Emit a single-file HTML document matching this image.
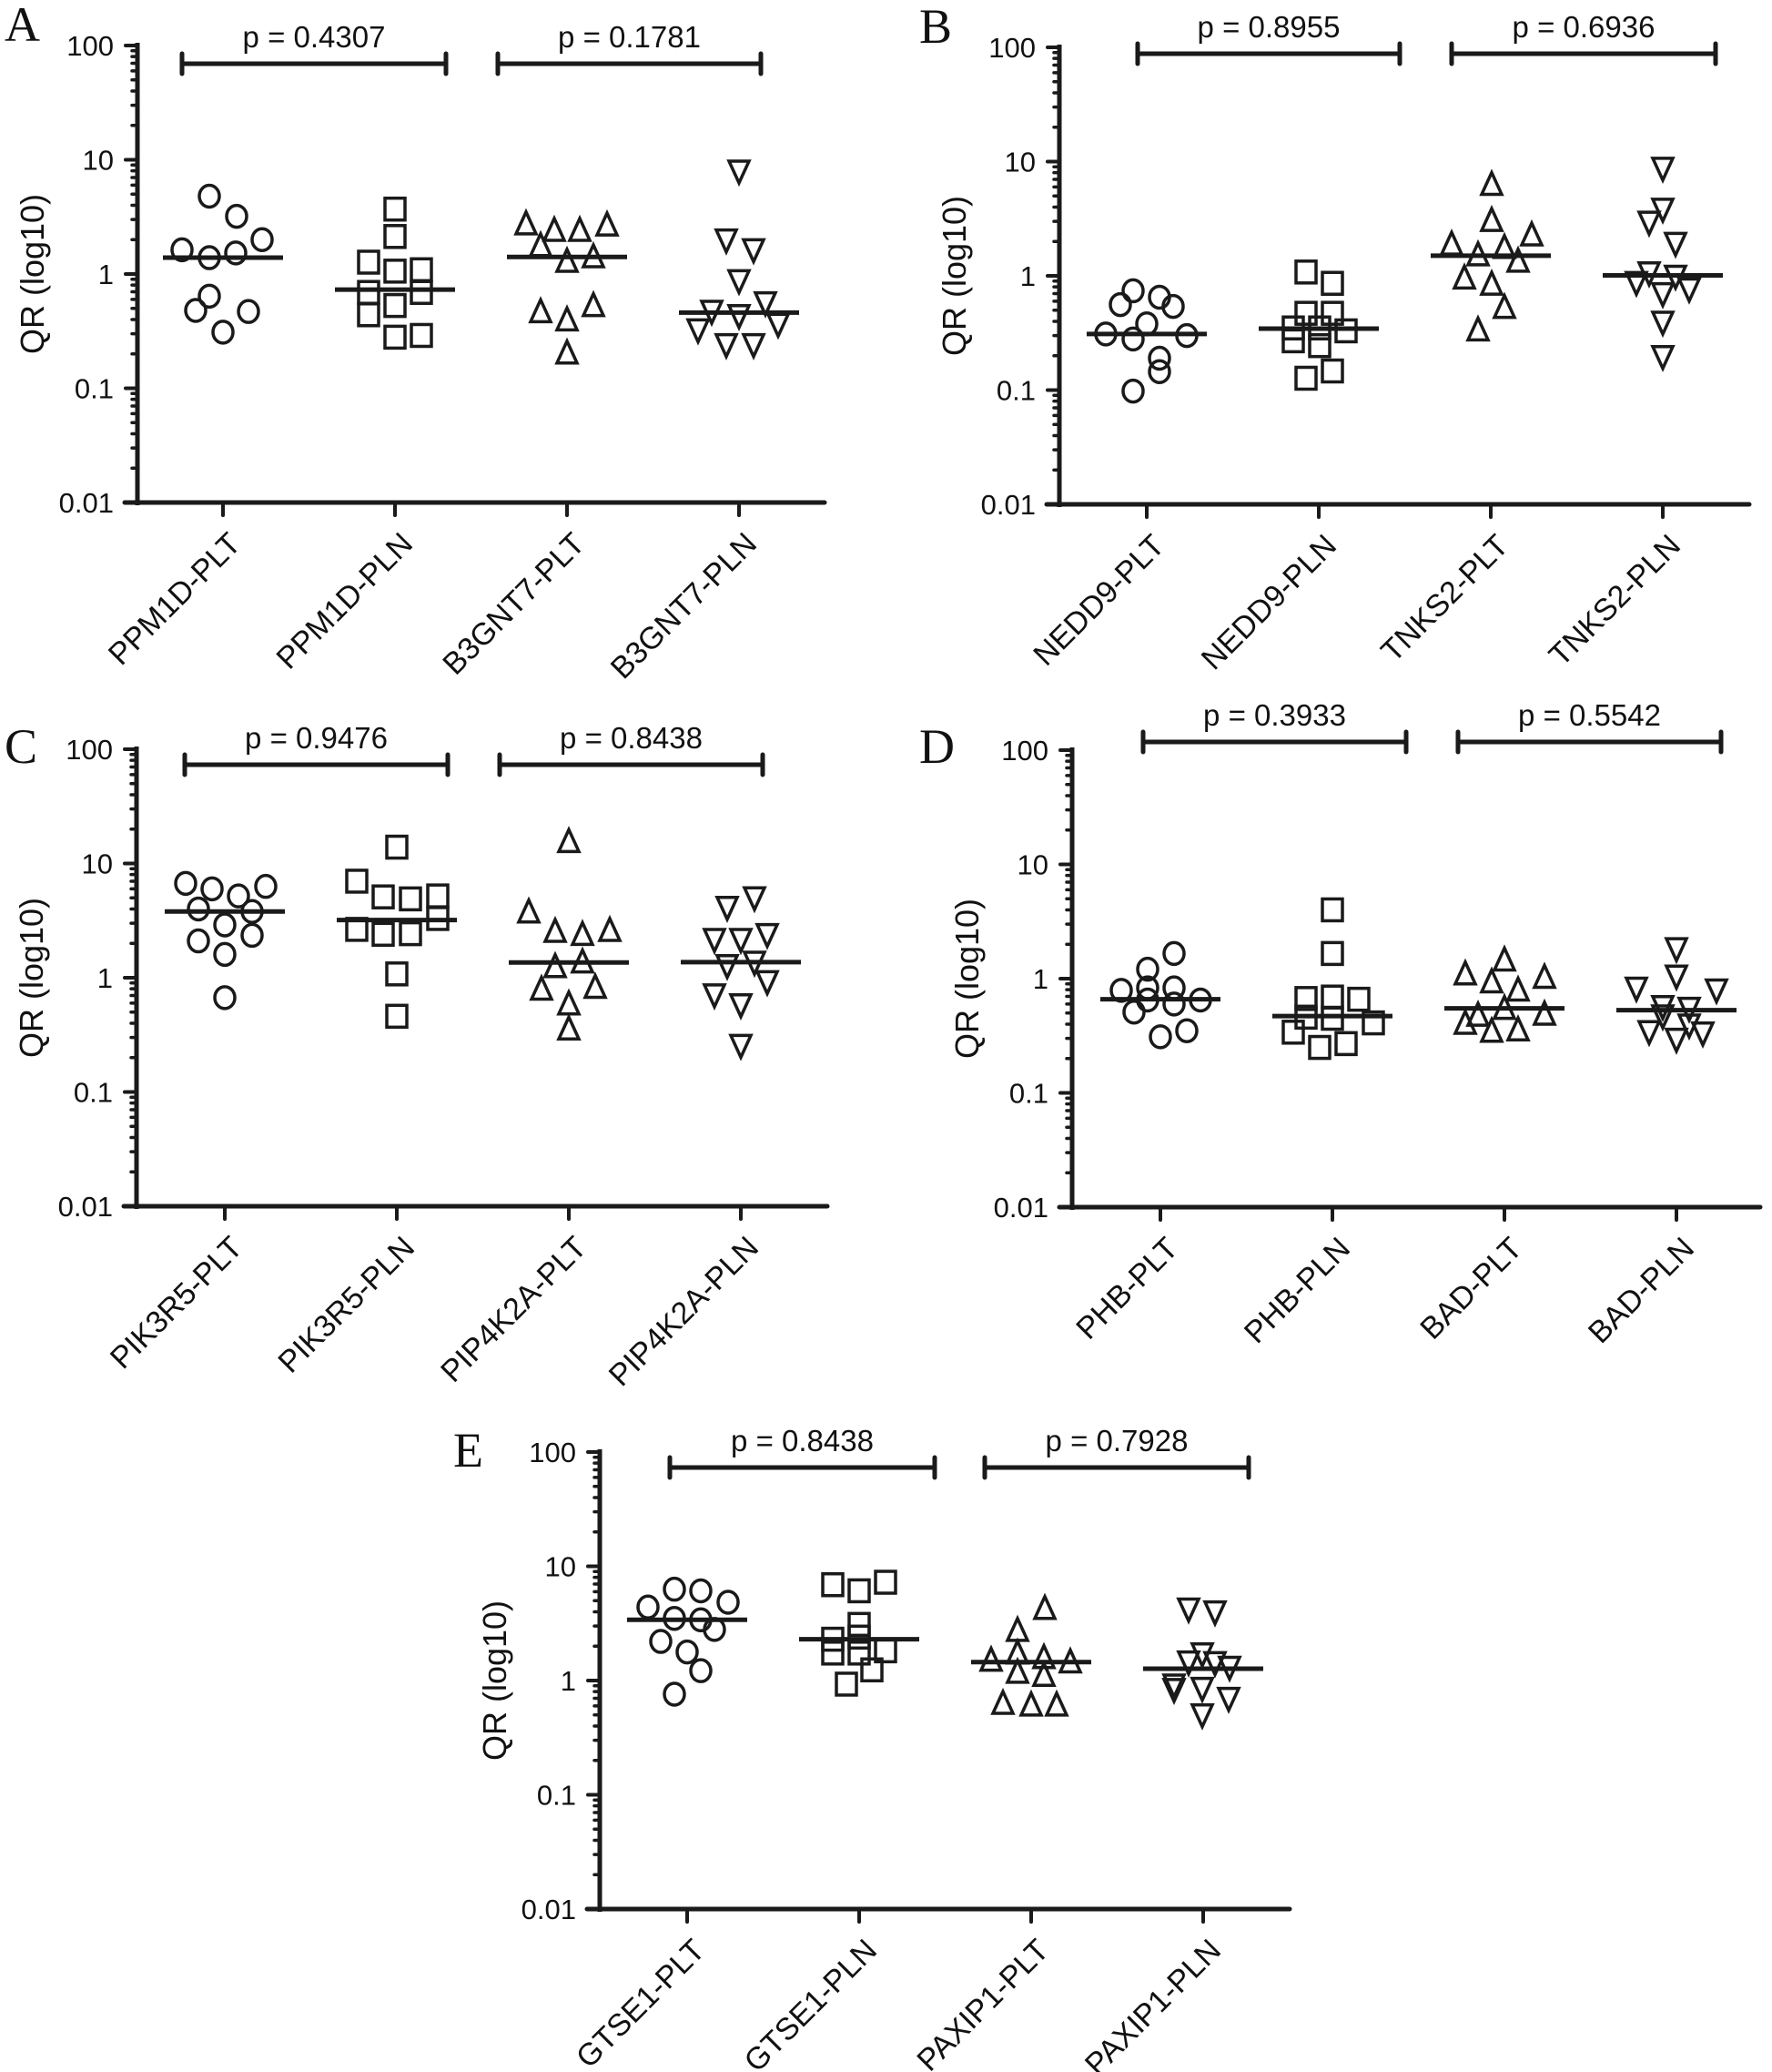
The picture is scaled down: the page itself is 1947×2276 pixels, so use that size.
<!DOCTYPE html>
<html><head><meta charset="utf-8">
<style>
html,body{margin:0;padding:0;background:#fff;}
svg{display:block;}
text{font-family:"Liberation Sans",Arial,sans-serif;fill:#111;}
.letter{font-family:"Liberation Serif","Times New Roman",serif;font-size:54px;}
</style></head>
<body>
<svg id="fig" width="1947" height="2276" viewBox="0 0 1947 2276" xmlns="http://www.w3.org/2000/svg"></svg>
<script>
// ---------- data ----------
const catsA = ["PPM1D-PLT","PPM1D-PLN","B3GNT7-PLT","B3GNT7-PLN"];
const valsA1 = [4.8,3.2,2.0,1.63,1.39,1.53,0.64,0.48,0.47,0.31];
const valsA2 = [3.7,2.13,1.27,1.06,1.09,0.69,0.69,0.53,0.44,0.28,0.29];
const valsA3 = [2.7,2.37,2.37,2.64,1.74,1.27,1.39,0.46,0.39,0.52,0.20];
const valsA4 = [8.1,2.02,1.66,0.89,0.57,0.48,0.44,0.33,0.37,0.245,0.245];
const mediansA = [1.39,0.73,1.41,0.46];
const pvalsA = ["p = 0.4307","p = 0.1781"];

const catsB = ["NEDD9-PLT","NEDD9-PLN","TNKS2-PLT","TNKS2-PLN"];
const valsB1 = [0.74,0.56,0.65,0.54,0.38,0.31,0.28,0.30,0.19,0.145,0.098];
const valsB2 = [1.08,0.86,0.47,0.47,0.35,0.35,0.33,0.27,0.245,0.147,0.127];
const valsB3 = [6.2,3.0,2.24,1.86,1.74,1.5,1.32,0.94,0.83,0.52,0.33];
const valsB4 = [8.9,3.9,3.0,1.96,1.08,1.01,0.89,0.78,0.71,0.40,0.20];
const mediansB = [0.31,0.345,1.5,1.01];
const pvalsB = ["p = 0.8955","p = 0.6936"];

const catsC = ["PIK3R5-PLT","PIK3R5-PLN","PIP4K2A-PLT","PIP4K2A-PLN"];
const valsC1 = [6.7,6.0,6.3,5.2,4.0,3.8,2.9,2.1,2.35,1.6,0.67];
const valsC2 = [13.9,7.0,5.1,4.9,5.2,3.3,2.65,2.4,2.43,1.08,0.46];
const valsC3 = [15.3,3.7,2.5,2.35,2.55,1.23,1.35,0.78,0.81,0.58,0.35];
const valsC4 = [5.1,4.2,2.2,2.2,2.43,1.3,1.39,0.94,0.72,0.59,0.26];
const mediansC = [3.8,3.2,1.36,1.37];
const pvalsC = ["p = 0.9476","p = 0.8438"];

const catsD = ["PHB-PLT","PHB-PLN","BAD-PLT","BAD-PLN"];
const valsD1 = [1.66,1.21,0.79,0.83,0.83,0.65,0.65,0.6,0.51,0.35,0.31];
const valsD2 = [4.0,1.66,0.67,0.69,0.66,0.46,0.45,0.41,0.34,0.27,0.25];
const valsD3 = [1.43,1.08,1.01,0.92,0.78,0.54,0.47,0.48,0.40,0.34,0.35];
const valsD4 = [1.86,1.07,0.84,0.81,0.58,0.56,0.48,0.40,0.35,0.34,0.30];
const mediansD = [0.66,0.47,0.55,0.53];
const pvalsD = ["p = 0.3933","p = 0.5542"];

const catsE = ["GTSE1-PLT","GTSE1-PLN","PAXIP1-PLT","PAXIP1-PLN"];
const valsE1 = [6.3,6.1,4.85,4.4,3.5,3.4,2.8,2.2,1.78,1.22,0.76];
const valsE2 = [6.9,6.1,7.25,3.1,2.4,2.3,1.74,1.74,1.82,1.24,0.93];
const valsE3 = [4.2,2.7,1.48,1.71,1.56,1.43,1.16,1.09,0.62,0.6,0.6];
const valsE4 = [4.3,4.06,1.74,1.48,1.46,1.33,0.93,0.87,0.71,0.85,0.51];
const mediansE = [3.4,2.3,1.45,1.27];
const pvalsE = ["p = 0.8438","p = 0.7928"];

const yTicks = [100,10,1,0.1,0.01];
const yTickLabels = ["100","10","1","0.1","0.01"];

// jitter (horizontal scatter, px) – presentation only
const jA = [[-15,15,43,-45,-15,14,-15,-30,28,0],[0,0,-29,0,29,-29,29,0,-29,0,29],[-45,-14,14,44,-29,0,29,-29,0,29,0],[0,-14,16,0,29,-30,0,-45,43,-14,16]];
const jB = [[-15,-29,14,29,0,-45,-15,44,14,14,-15],[-14,15,-14,15,-28,1,30,-28,1,15,-14],[1,1,45,-43,15,-14,30,-29,1,15,-14],[0,0,-15,14,-15,14,-29,29,0,0,0]];
const jC = [[-43,-14,45,15,-29,30,0,-29,30,0,0],[0,-44,-15,15,45,45,-44,-15,15,0,0],[0,-44,-15,15,45,-15,15,-30,29,0,0],[15,-15,-29,0,29,-15,15,29,-29,0,0]];
const jD = [[15,-14,-43,-14,15,44,-14,15,-29,29,0],[0,0,-29,0,29,-29,0,45,-43,15,-14],[0,-43,44,-14,15,0,-29,44,-43,-14,15],[0,0,-44,44,-15,14,-15,14,-30,29,0]];
const jE = [[-14,15,45,-43,-14,15,30,-29,0,15,-14],[-29,0,29,0,0,-29,-29,0,29,14,-14],[15,-15,-44,-15,14,43,-15,14,-31,0,28],[-16,13,-1,-16,13,29,-32,-1,28,-32,-1]];

const panels = [
 {id:"a",letter:"A",lx:5,ly:45,ax:151,y100:50,xEnd:906,cat0:245,bY:70,br:[[200,490],[547,836]],cats:catsA,vals:[valsA1,valsA2,valsA3,valsA4],med:mediansA,p:pvalsA,j:jA},
 {id:"b",letter:"B",lx:1010,ly:47,ax:1164,y100:52,xEnd:1922,cat0:1260,bY:59,br:[[1250,1538],[1595,1885]],cats:catsB,vals:[valsB1,valsB2,valsB3,valsB4],med:mediansB,p:pvalsB,j:jB},
 {id:"c",letter:"C",lx:5,ly:838,ax:150,y100:823,xEnd:909,cat0:247,bY:840,br:[[203,492],[549,838]],cats:catsC,vals:[valsC1,valsC2,valsC3,valsC4],med:mediansC,p:pvalsC,j:jC},
 {id:"d",letter:"D",lx:1010,ly:838,ax:1178,y100:824,xEnd:1934,cat0:1275,bY:815,br:[[1256,1545],[1602,1891]],cats:catsD,vals:[valsD1,valsD2,valsD3,valsD4],med:mediansD,p:pvalsD,j:jD},
 {id:"e",letter:"E",lx:498,ly:1611,ax:659,y100:1595,xEnd:1417,cat0:755,bY:1612,br:[[736,1027],[1082,1372]],cats:catsE,vals:[valsE1,valsE2,valsE3,valsE4],med:mediansE,p:pvalsE,j:jE}
];
const DEC = 125.5, SPACING = 189, shapes = ["circle","square","up","down"];
const NS = "http://www.w3.org/2000/svg";
const svg = document.getElementById("fig");
function mk(tag, attrs, parent){const e=document.createElementNS(NS,tag);for(const k in attrs)e.setAttribute(k,attrs[k]);(parent||svg).appendChild(e);return e;}

panels.forEach(P=>{
  const g = mk("g",{});
  
  
  const yS = v => P.y100 + (2 - Math.log10(v)) * DEC;
  const xS = i => P.cat0 + i * SPACING;
  const y0 = yS(0.01);
  const L = mk("text",{x:P.lx,y:P.ly,class:"letter"},g); L.textContent=P.letter;
  
  
  const ya = mk("g",{},g);
  
  
  mk("line",{x1:P.ax,y1:P.y100-3,x2:P.ax,y2:y0+3,stroke:"#1a1a1a","stroke-width":5},ya);
  for(let d=-2; d<2; d++){
    for(let m=2;m<=9;m++){
      const yy = yS(m*Math.pow(10,d));
      mk("line",{x1:P.ax-6,y1:yy,x2:P.ax,y2:yy,stroke:"#1a1a1a","stroke-width":3.5,"stroke-linecap":"round"},ya);
    }
  }
  yTicks.forEach((t,i)=>{
    const yy=yS(t);
    mk("line",{x1:P.ax-13,y1:yy,x2:P.ax,y2:yy,stroke:"#1a1a1a","stroke-width":4,"stroke-linecap":"round"},ya);
    const tx=mk("text",{x:P.ax-26,y:yy+11,"text-anchor":"end","font-size":31},ya);
    tx.textContent=yTickLabels[i];
    
    
  });
  const yt = mk("text",{x:0,y:0,"text-anchor":"middle","font-size":36,transform:`translate(${P.ax-103},${P.y100+251}) rotate(-90)`},g);
  yt.textContent="QR (log10)";
  
  
  const xa = mk("g",{},g);
  
  
  mk("line",{x1:P.ax-14,y1:y0,x2:P.xEnd,y2:y0,stroke:"#1a1a1a","stroke-width":5,"stroke-linecap":"round"},xa);
  P.cats.forEach((c,i)=>{
    const cx=xS(i);
    mk("line",{x1:cx,y1:y0,x2:cx,y2:y0+14,stroke:"#1a1a1a","stroke-width":4,"stroke-linecap":"round"},xa);
    const t=mk("text",{x:0,y:0,dy:"0.72em","text-anchor":"end","font-size":34,transform:`translate(${cx+4},${y0+30}) rotate(-45)`},xa);
    t.textContent=c;
    
    
  });
  P.br.forEach((b,k)=>{
    const bg=mk("g",{},g);
    
    
    mk("line",{x1:b[0],y1:P.bY,x2:b[1],y2:P.bY,stroke:"#1a1a1a","stroke-width":5},bg);
    mk("line",{x1:b[0],y1:P.bY-11,x2:b[0],y2:P.bY+11,stroke:"#1a1a1a","stroke-width":5,"stroke-linecap":"round"},bg);
    mk("line",{x1:b[1],y1:P.bY-11,x2:b[1],y2:P.bY+11,stroke:"#1a1a1a","stroke-width":5,"stroke-linecap":"round"},bg);
    const pt=mk("text",{x:(b[0]+b[1])/2,y:P.bY-18,"text-anchor":"middle","font-size":33},bg);
    pt.textContent=P.p[k];
    
    
  });
  P.vals.forEach((arr,i)=>{
    const sg=mk("g",{},g);
    
    
    const sh=shapes[i];
    arr.forEach((v,k)=>{
      const cx=xS(i)+(P.j[i][k]||0), cy=yS(v);
      let el;
      const st={fill:"none",stroke:"#1a1a1a","stroke-width":3.5};
      if(sh==="circle") el=mk("ellipse",Object.assign({cx:cx,cy:cy,rx:11,ry:12},st),sg);
      else if(sh==="square") el=mk("rect",Object.assign({x:cx-11,y:cy-12,width:22,height:24},st),sg);
      else if(sh==="up") el=mk("polygon",Object.assign({points:`${cx},${cy-14} ${cx+11},${cy+10} ${cx-11},${cy+10}`},st),sg);
      else el=mk("polygon",Object.assign({points:`${cx-11},${cy-10} ${cx+11},${cy-10} ${cx},${cy+14}`},st),sg);
      
      
    });
    const my=yS(P.med[i]);
    const ml=mk("line",{x1:xS(i)-66,y1:my,x2:xS(i)+66,y2:my,stroke:"#1a1a1a","stroke-width":5},sg);
    
    
  });
});
</script>
</body></html>
